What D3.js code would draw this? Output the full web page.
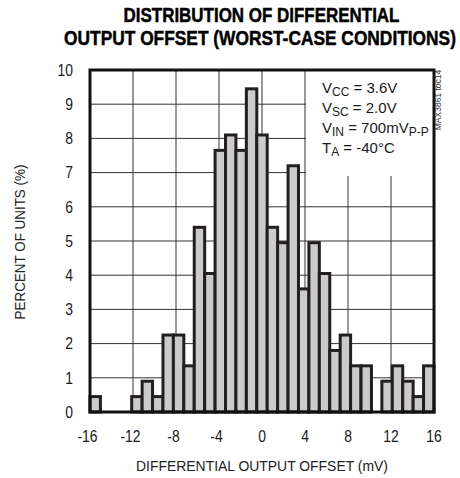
<!DOCTYPE html>
<html>
<head>
<meta charset="utf-8">
<script src="https://cdn.jsdelivr.net/npm/d3@7"></script>
<style>
  body { margin: 0; background: #fff; }
  svg { display: block; }
  text { font-family: "Liberation Sans", Arial, Helvetica, sans-serif; fill: #1a1a1a; }
</style>
</head>
<body>
<div id="chart"></div>
<script>
// bin centres (mV) and share of units in each bin (%)
const offsets = [-16, -15, -14, -13, -12, -11, -10, -9, -8, -7, -6, -5, -4, -3, -2, -1, 0,
                 1, 2, 3, 4, 5, 6, 7, 8, 9, 10, 11, 12, 13, 14, 15, 16];
const percents = [0.45, 0, 0, 0, 0.45, 0.9, 0.45, 2.25, 2.25, 1.35, 5.4, 4.05, 7.65, 8.1, 7.65, 9.45, 8.1,
                  5.4, 4.95, 7.2, 3.6, 4.95, 4.05, 1.8, 2.25, 1.35, 1.35, 0, 0.9, 1.35, 0.9, 0.45, 1.35];
const xTicks = [-16, -12, -8, -4, 0, 4, 8, 12, 16];
const yTicks = [0, 1, 2, 3, 4, 5, 6, 7, 8, 9, 10];
const titleLines = ['DISTRIBUTION OF DIFFERENTIAL', 'OUTPUT OFFSET (WORST-CASE CONDITIONS)'];
const conditions = [
  {main: 'V', sub: 'CC', rest: ' = 3.6V'},
  {main: 'V', sub: 'SC', rest: ' = 2.0V'},
  {main: 'V', sub: 'IN', rest: ' = 700mV', sub2: 'P-P'},
  {main: 'T', sub: 'A', rest: ' = -40°C'}
];

const width = 460, height = 478;
const plot = {left: 90, right: 434, top: 70, bottom: 412};
const condensed = 0.87; // the original type is a condensed grotesque

const svg = d3.select('#chart').append('svg')
    .attr('width', width)
    .attr('height', height);

const x = d3.scaleLinear().domain([-16, 16]).range([plot.left, plot.right]);
const xBand = d3.scaleBand().domain(offsets).range([plot.left, plot.right]).padding(0);
const y = d3.scaleLinear().domain([0, 10]).range([plot.bottom, plot.top]);

// squeeze a text horizontally, either by a factor or to a target width
function squeeze(sel, k, target) {
  sel.each(function() {
    const t = d3.select(this);
    const s = target ? target / this.getComputedTextLength() : k;
    const base = t.attr('data-t') || '';
    t.attr('transform', `${base} scale(${s},1)`);
  });
}

// grid
const grid = svg.append('g').attr('stroke', '#333').attr('stroke-width', 1);

grid.selectAll('line.v')
    .data(xTicks.slice(1, -1))
  .enter().append('line')
    .attr('class', 'v')
    .attr('x1', d => x(d)).attr('x2', d => x(d))
    .attr('y1', plot.top).attr('y2', plot.bottom);

grid.selectAll('line.h')
    .data(yTicks.slice(1, -1))
  .enter().append('line')
    .attr('class', 'h')
    .attr('x1', plot.left).attr('x2', plot.right)
    .attr('y1', d => y(d)).attr('y2', d => y(d));

// white panel behind the test conditions
svg.append('rect')
    .attr('x', 306).attr('y', plot.top)
    .attr('width', plot.right - 306).attr('height', 106)
    .attr('fill', '#fff');

// bars
svg.append('g')
  .selectAll('rect')
    .data(offsets.map((o, i) => ({o, v: percents[i]})).filter(d => d.v > 0))
  .enter().append('rect')
    .attr('x', d => xBand(d.o))
    .attr('y', d => y(d.v))
    .attr('width', xBand.bandwidth())
    .attr('height', d => y(0) - y(d.v))
    .attr('fill', '#cbcbcb')
    .attr('stroke', '#231f20')
    .attr('stroke-width', 3);

// frame
svg.append('rect')
    .attr('x', plot.left).attr('y', plot.top)
    .attr('width', plot.right - plot.left).attr('height', plot.bottom - plot.top)
    .attr('fill', 'none')
    .attr('stroke', '#111')
    .attr('stroke-width', 3);

// tick labels
svg.append('g')
  .selectAll('text')
    .data(xTicks)
  .enter().append('text')
    .attr('data-t', d => `translate(${x(d) - (d < 0 ? 2.5 : 0)},442)`)
    .attr('text-anchor', 'middle')
    .style('font-size', '16px')
    .text(d => d < 0 ? '-' + Math.abs(d) : d)
    .call(squeeze, condensed);

svg.append('g')
  .selectAll('text')
    .data(yTicks)
  .enter().append('text')
    .attr('data-t', d => `translate(73,${y(d) + 5.8})`)
    .attr('text-anchor', 'end')
    .style('font-size', '16px')
    .text(d => d)
    .call(squeeze, condensed);

// axis titles
svg.append('text')
    .attr('data-t', 'translate(262,471)')
    .attr('text-anchor', 'middle')
    .style('font-size', '15px')
    .style('fill', '#222')
    .text('DIFFERENTIAL OUTPUT OFFSET (mV)')
    .call(squeeze, null, 252);

svg.append('text')
    .attr('data-t', 'translate(25,242) rotate(-90)')
    .attr('text-anchor', 'middle')
    .style('font-size', '15px')
    .style('fill', '#222')
    .text('PERCENT OF UNITS (%)')
    .call(squeeze, null, 155);

// title
svg.append('g')
  .selectAll('text')
    .data(titleLines)
  .enter().append('text')
    .attr('data-t', (d, i) => i ? 'translate(260,45)' : 'translate(261.5,21.5)')
    .attr('text-anchor', 'middle')
    .style('font-size', '21px')
    .style('font-weight', 'bold')
    .style('fill', '#000')
    .style('stroke', '#000')
    .style('stroke-width', 0.5)
    .text(d => d)
    .call(function(sel) {
      sel.each(function(d, i) { squeeze(d3.select(this), null, i ? 392 : 276); });
    });

// test conditions
const cond = svg.append('g')
  .selectAll('text')
    .data(conditions)
  .enter().append('text')
    .attr('x', 322)
    .attr('y', (d, i) => 92.5 + i * 20.2)
    .style('font-size', '15px');

cond.append('tspan').text(d => d.main);
cond.append('tspan').attr('dy', 3).style('font-size', '12px').text(d => d.sub);
cond.append('tspan').attr('dy', -3).text(d => d.rest);
cond.filter(d => d.sub2).append('tspan').attr('dy', 3).style('font-size', '12px').text(d => d.sub2);

// figure id
svg.append('text')
    .attr('transform', 'translate(441,100) rotate(-90)')
    .attr('text-anchor', 'middle')
    .style('font-size', '8.5px')
    .style('fill', '#333')
    .text('MAX3861 toc14');
</script>
</body>
</html>
